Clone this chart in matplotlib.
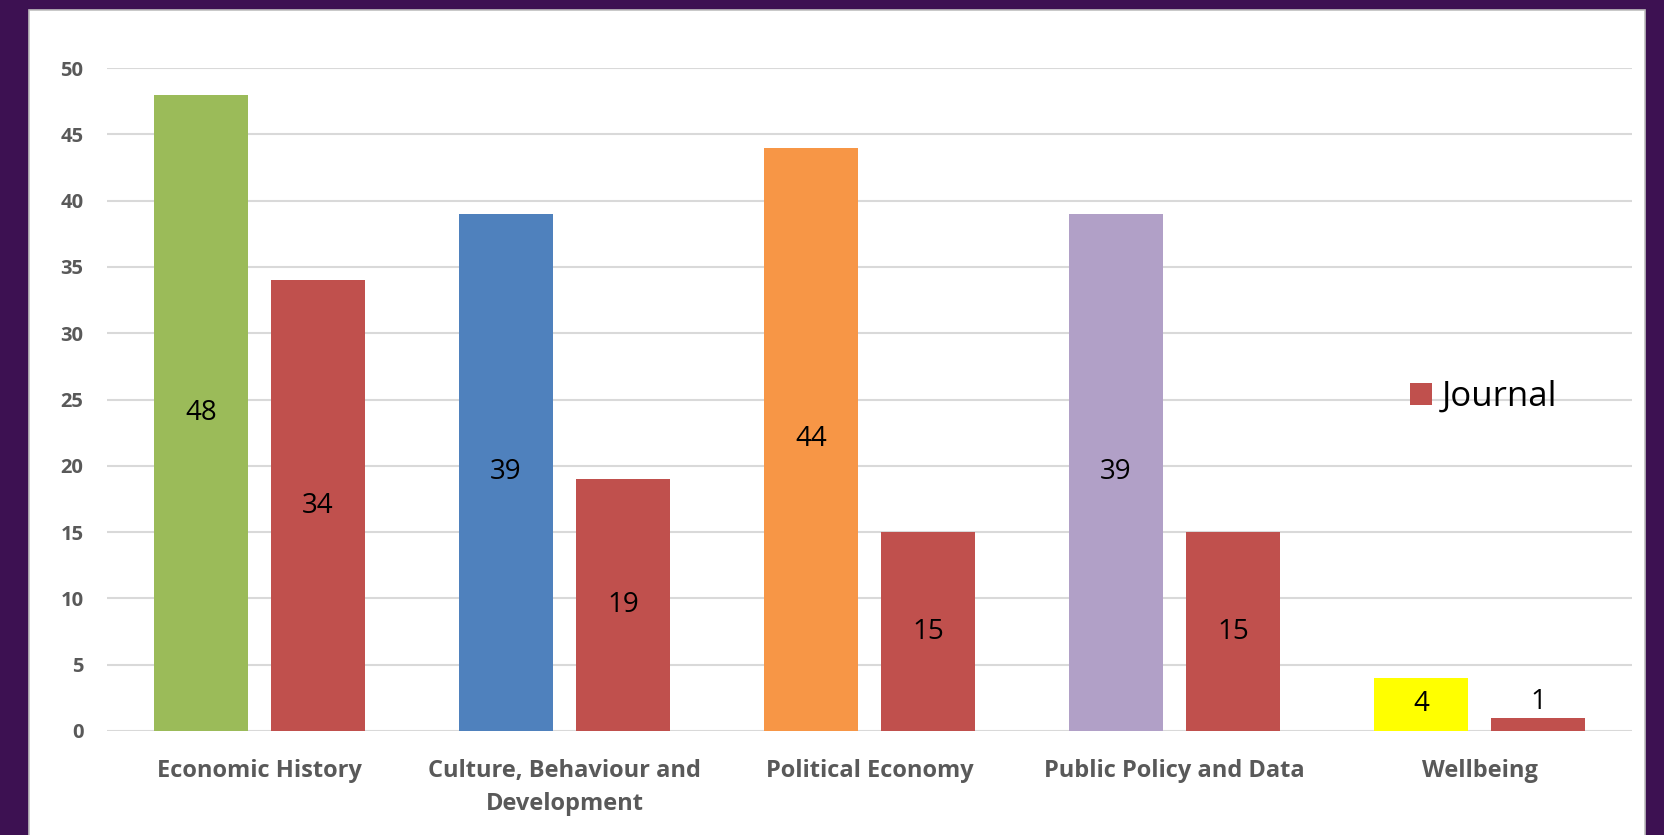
import matplotlib.pyplot as plt
from matplotlib.patches import Rectangle
import numpy as np

# data
categories = ["Economic History", "Culture, Behaviour and\nDevelopment",
              "Political Economy", "Public Policy and Data", "Wellbeing"]
first_values = [48, 39, 44, 39, 4]
journal_values = [34, 19, 15, 15, 1]
first_colors = ["#9BBB59", "#4F81BD", "#F79646", "#B1A0C7", "#FFFF00"]
journal_color = "#C0504D"
y_ticks = [0, 5, 10, 15, 20, 25, 30, 35, 40, 45, 50]

W, H = 1664, 835
fig = plt.figure(figsize=(W / 100, H / 100), dpi=100)
fig.patch.set_facecolor("#3D1152")

# white panel
fig.patches.append(Rectangle((29 / W, -0.05), (1645 - 29) / W, (H - 10) / H + 0.05,
                             transform=fig.transFigure, facecolor="white",
                             edgecolor="#BFBFBF", linewidth=1.2, zorder=-10))

ax = fig.add_axes([107 / W, (H - 731) / H, (1632 - 107) / W, (731 - 68) / H])
ax.set_facecolor("none")

x = np.arange(len(categories))
bw = 0.308
off = 0.192
bars1 = ax.bar(x - off, first_values, bw, color=first_colors, zorder=3)
bars2 = ax.bar(x + off, journal_values, bw, color=journal_color, zorder=3,
               label="Journal")

for b, v in zip(list(bars1) + list(bars2), first_values + journal_values):
    cx = b.get_x() + b.get_width() / 2
    if v < 2:
        ax.text(cx, v + 1.2, str(v), ha="center", va="center", fontsize=20,
                family="Open Sans", color="black", zorder=4)
    else:
        ax.text(cx, v / 2, str(v), ha="center", va="center", fontsize=20,
                family="Open Sans", color="black", zorder=4)

ax.set_xlim(-0.5, len(categories) - 0.5)
ax.set_ylim(0, 50)
ax.set_yticks(y_ticks)
ax.set_yticklabels([str(t) for t in y_ticks], fontsize=14.5, fontweight="bold",
                   color="#595959", family="Open Sans")
ax.set_xticks(x)
ax.set_xticklabels(categories, fontsize=17, fontweight="bold",
                   color="#595959", family="Open Sans", linespacing=1.5)
ax.tick_params(axis="both", length=0)
ax.tick_params(axis="y", pad=17)
ax.tick_params(axis="x", pad=20)
ax.grid(axis="y", color="#D9D9D9", linewidth=1.5, zorder=0)
for s in ax.spines.values():
    s.set_visible(False)

ax.legend(loc="center left", bbox_to_anchor=(1410 / W, (H - 397) / H),
          bbox_transform=fig.transFigure, frameon=False, borderpad=0,
          borderaxespad=0, prop={"family": "Open Sans", "size": 25},
          handlelength=0.62, handleheight=0.62, handletextpad=0.3)

fig.savefig("out.png", dpi=100, facecolor=fig.get_facecolor())
